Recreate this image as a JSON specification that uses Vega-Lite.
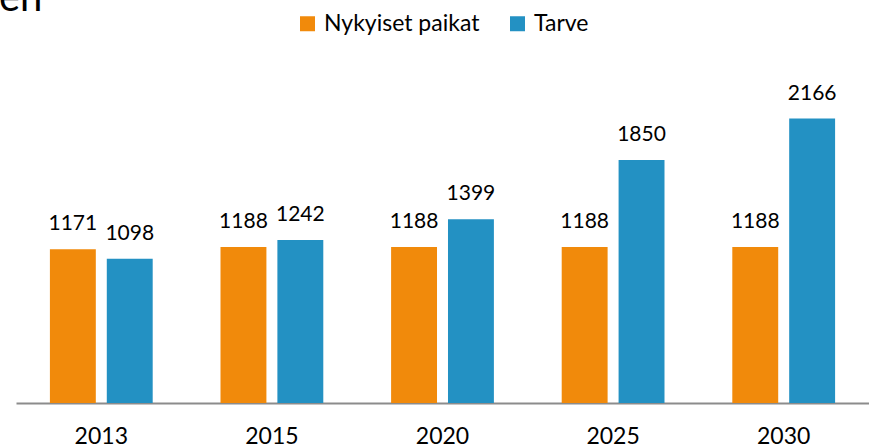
{
  "$schema": "https://vega.github.io/schema/vega-lite/v6.json",
  "autosize": "none",
  "width": 853,
  "height": 328,
  "padding": {"left": 16, "top": 75, "right": 0, "bottom": 45},
  "background": "white",
  "view": {"stroke": null},
  "title": {
    "text": "en",
    "anchor": "start",
    "frame": "group",
    "fontSize": 40,
    "font": "Lato",
    "fontWeight": "normal",
    "color": "#000000",
    "baseline": "alphabetic",
    "offset": 0,
    "dx": -17,
    "dy": 39
  },
  "data": {
    "values": [
      {"year": "2013", "series": "Nykyiset paikat", "value": 1171},
      {"year": "2013", "series": "Tarve", "value": 1098},
      {"year": "2015", "series": "Nykyiset paikat", "value": 1188},
      {"year": "2015", "series": "Tarve", "value": 1242},
      {"year": "2020", "series": "Nykyiset paikat", "value": 1188},
      {"year": "2020", "series": "Tarve", "value": 1399},
      {"year": "2025", "series": "Nykyiset paikat", "value": 1188},
      {"year": "2025", "series": "Tarve", "value": 1850},
      {"year": "2030", "series": "Nykyiset paikat", "value": 1188},
      {"year": "2030", "series": "Tarve", "value": 2166}
    ]
  },
  "encoding": {
    "x": {
      "field": "year",
      "type": "nominal",
      "scale": {"paddingInner": 0, "paddingOuter": 0},
      "axis": {
        "title": null,
        "labelAngle": 0,
        "labelFont": "Lato",
        "labelFontSize": 23,
        "labelColor": "#000000",
        "labelBaseline": "alphabetic",
        "labelPadding": 40,
        "ticks": false,
        "tickSize": 0,
        "domainColor": "#8c8c8c",
        "domainWidth": 2,
        "grid": false
      }
    },
    "xOffset": {
      "field": "series",
      "type": "nominal",
      "scale": {"paddingInner": 0.193, "paddingOuter": 0.596}
    },
    "y": {
      "field": "value",
      "type": "quantitative",
      "scale": {"domain": [0, 2498]},
      "axis": null
    }
  },
  "layer": [
    {
      "mark": {"type": "bar"},
      "encoding": {
        "color": {
          "field": "series",
          "type": "nominal",
          "scale": {"domain": ["Nykyiset paikat", "Tarve"], "range": ["#F18A0B", "#2391C3"]},
          "legend": {
            "title": null,
            "orient": "none",
            "direction": "horizontal",
            "legendX": 280,
            "legendY": -63,
            "symbolType": "square",
            "symbolSize": 225,
            "symbolStrokeWidth": 0,
            "labelFont": "Lato",
            "labelFontSize": 23,
            "labelColor": "#000000",
            "labelOffset": 5,
            "columnPadding": 26
          }
        }
      }
    },
    {
      "mark": {"type": "text", "font": "Lato", "fontSize": 21, "color": "#000000", "baseline": "alphabetic", "dy": -19},
      "encoding": {
        "text": {"field": "value", "type": "quantitative"}
      }
    }
  ]
}
